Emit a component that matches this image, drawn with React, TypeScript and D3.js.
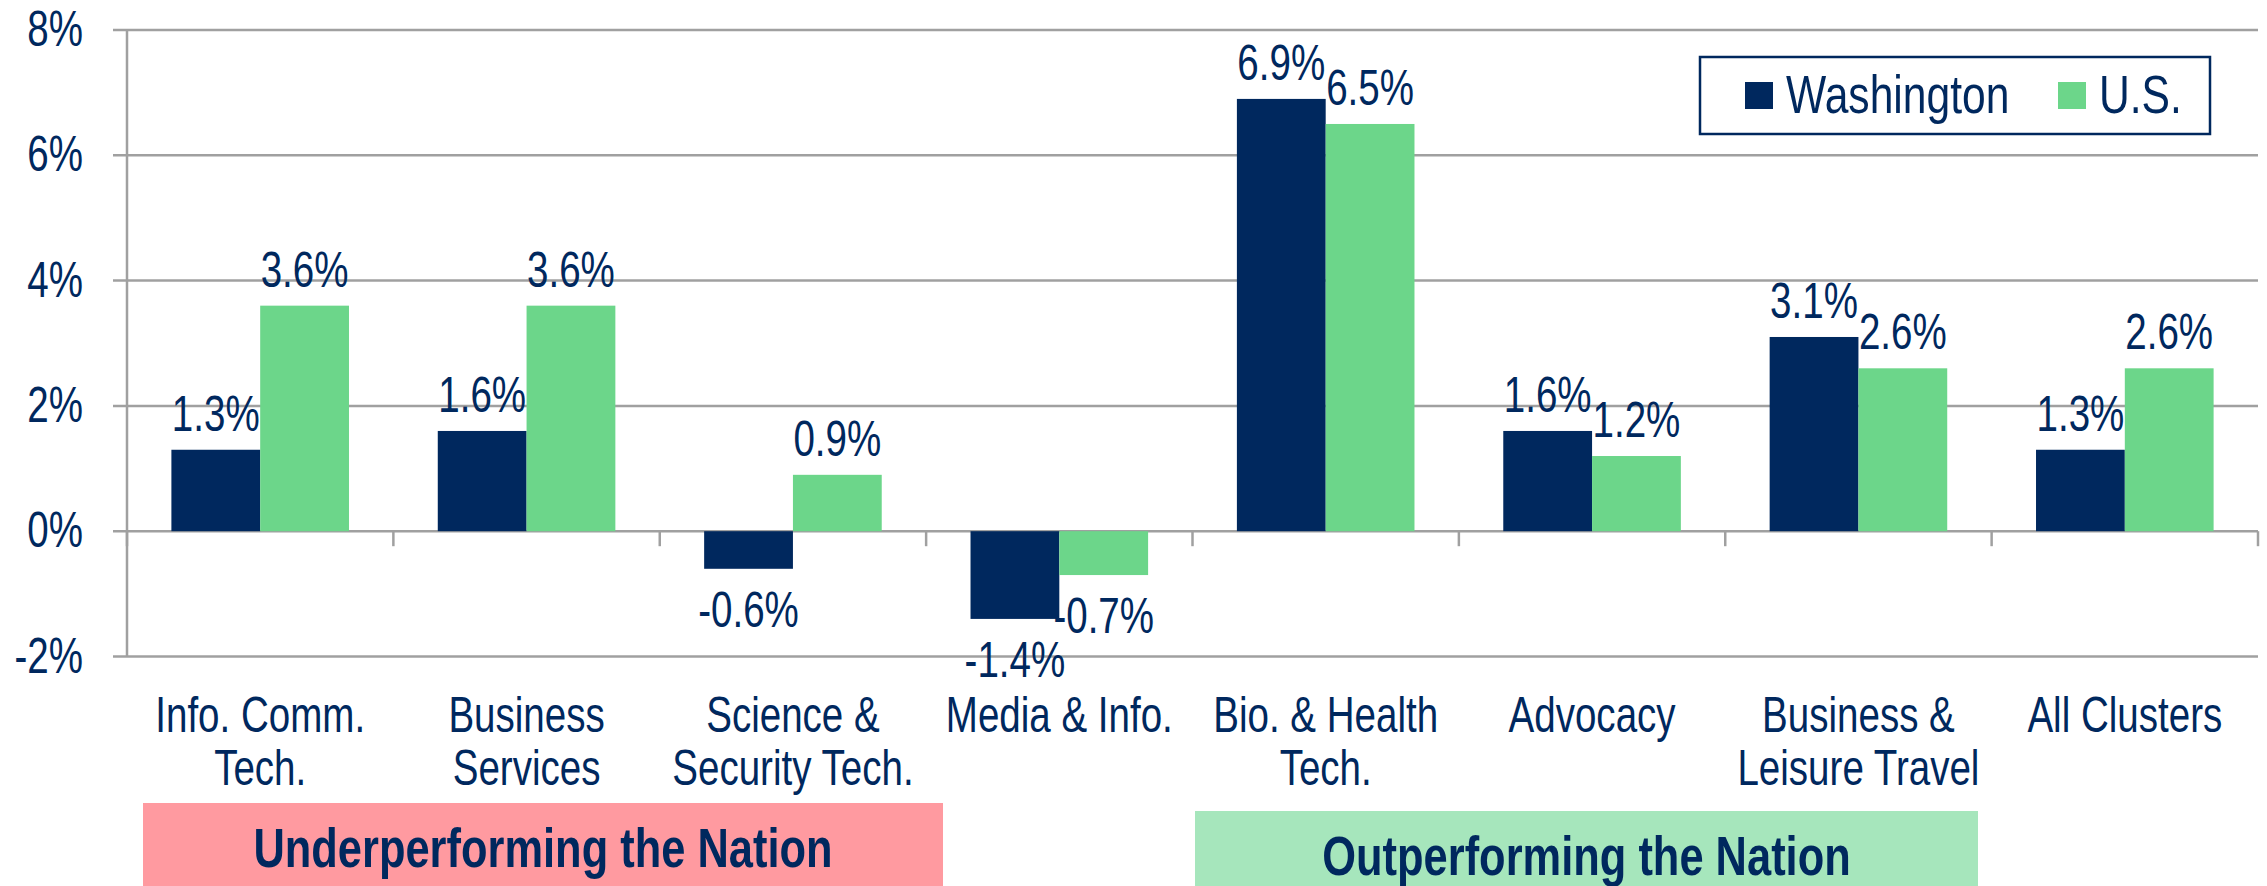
import React, { useEffect, useRef } from 'react';
import * as d3 from 'd3';

// Employment growth by cluster, Washington vs U.S.
const categories = [
  ['Info. Comm.', 'Tech.'],
  ['Business', 'Services'],
  ['Science &', 'Security Tech.'],
  ['Media & Info.'],
  ['Bio. & Health', 'Tech.'],
  ['Advocacy'],
  ['Business &', 'Leisure Travel'],
  ['All Clusters'],
];
const washington = [1.3, 1.6, -0.6, -1.4, 6.9, 1.6, 3.1, 1.3];
const us = [3.6, 3.6, 0.9, -0.7, 6.5, 1.2, 2.6, 2.6];
const yTicks = [-2, 0, 2, 4, 6, 8];
const seriesNames = ['Washington', 'U.S.'];

const NAVY = '#00285E';
const GREEN = '#6CD68A';
const GRID = '#A0A0A0';
const FONT = "'Liberation Sans', Arial, sans-serif";
const NARROW = 0.82; // fake Arial Narrow
const TALL = 1.05;

const App = () => {
  const svgRef = useRef<SVGSVGElement>(null);

  useEffect(() => {
    const svg = d3.select(svgRef.current);
    svg.selectAll('*').remove();

    const width = 2267;
    const height = 886;
    const left = 127;
    const right = 2258;

    svg.attr('width', width).attr('height', height);

    const x = d3.scaleBand<number>()
      .domain(d3.range(categories.length))
      .range([left, right])
      .paddingInner(0)
      .paddingOuter(0);

    const inner = d3.scaleBand<number>()
      .domain([0, 1])
      .range([0, x.bandwidth()])
      .paddingInner(0)
      .paddingOuter(0.5);

    const y = d3.scaleLinear().domain([-2, 8]).range([656.5, 30]);

    // narrow text helper
    const label = (g, px, py, txt, size, anchor, weight = 'normal') => {
      g.append('g')
        .attr('transform', `translate(${px},${py}) scale(${NARROW},${TALL})`)
        .append('text')
        .attr('x', 0)
        .attr('y', 0)
        .attr('text-anchor', anchor)
        .attr('font-family', FONT)
        .attr('font-size', size)
        .attr('font-weight', weight)
        .attr('fill', NAVY)
        .text(txt);
    };

    // gridlines
    svg.append('g')
      .selectAll('line')
      .data(yTicks)
      .enter()
      .append('line')
      .attr('x1', left - 14)
      .attr('x2', right)
      .attr('y1', d => y(d))
      .attr('y2', d => y(d))
      .attr('stroke', GRID)
      .attr('stroke-width', 2.5);

    // y axis
    svg.append('line')
      .attr('x1', left)
      .attr('x2', left)
      .attr('y1', y(8))
      .attr('y2', y(-2))
      .attr('stroke', GRID)
      .attr('stroke-width', 2.5);

    // category ticks under the zero line
    svg.append('g')
      .selectAll('line')
      .data(d3.range(categories.length + 1))
      .enter()
      .append('line')
      .attr('x1', d => left + d * x.bandwidth())
      .attr('x2', d => left + d * x.bandwidth())
      .attr('y1', y(0))
      .attr('y2', y(0) + 15)
      .attr('stroke', GRID)
      .attr('stroke-width', 2.5);

    // y tick labels
    const yLab = svg.append('g');
    yTicks.forEach(t => label(yLab, 83, y(t) + 16, `${t}%`, 47, 'end'));

    // bars
    const bars = svg.append('g');
    [washington, us].forEach((vals, s) => {
      vals.forEach((v, i) => {
        const bx = x(i) + inner(s);
        bars.append('rect')
          .attr('x', bx)
          .attr('y', y(Math.max(0, v)))
          .attr('width', inner.bandwidth())
          .attr('height', Math.abs(y(v) - y(0)))
          .attr('fill', s === 0 ? NAVY : GREEN);
      });
    });

    // value labels
    const vLab = svg.append('g');
    [washington, us].forEach((vals, s) => {
      vals.forEach((v, i) => {
        const cx = x(i) + inner(s) + inner.bandwidth() / 2;
        const ty = v >= 0 ? y(v) - 19 : y(v) + 58;
        label(vLab, cx, ty, `${v.toFixed(1)}%`, 47, 'middle');
      });
    });

    // category labels
    const cLab = svg.append('g');
    categories.forEach((lines, i) => {
      const cx = x(i) + x.bandwidth() / 2;
      lines.forEach((ln, j) => label(cLab, cx, 732 + j * 53, ln, 47, 'middle'));
    });

    // legend
    const leg = svg.append('g');
    leg.append('rect')
      .attr('x', 1700)
      .attr('y', 57)
      .attr('width', 510)
      .attr('height', 77)
      .attr('fill', 'white')
      .attr('stroke', NAVY)
      .attr('stroke-width', 2.5);
    const legX = [1745, 2058];
    seriesNames.forEach((name, s) => {
      leg.append('rect')
        .attr('x', legX[s])
        .attr('y', 82)
        .attr('width', 28)
        .attr('height', 27)
        .attr('fill', s === 0 ? NAVY : GREEN);
      label(leg, legX[s] + 41, 113, name, 52, 'start');
    });

    // performance bands
    const bands = [
      { text: 'Underperforming the Nation', x0: 143, x1: 943, top: 803, fill: '#FF9AA0' },
      { text: 'Outperforming the Nation', x0: 1195, x1: 1978, top: 811, fill: '#A6E6BC' },
    ];
    const bg = svg.append('g');
    bands.forEach(b => {
      bg.append('rect')
        .attr('x', b.x0)
        .attr('y', b.top)
        .attr('width', b.x1 - b.x0)
        .attr('height', height - b.top)
        .attr('fill', b.fill);
      label(bg, (b.x0 + b.x1) / 2, b.top + 64, b.text, 53, 'middle', 'bold');
    });
  }, []);

  return (
    <svg
      ref={svgRef}
      style={{ position: 'absolute', left: 0, top: 0, display: 'block', background: 'white' }}
    ></svg>
  );
};

export default App;
